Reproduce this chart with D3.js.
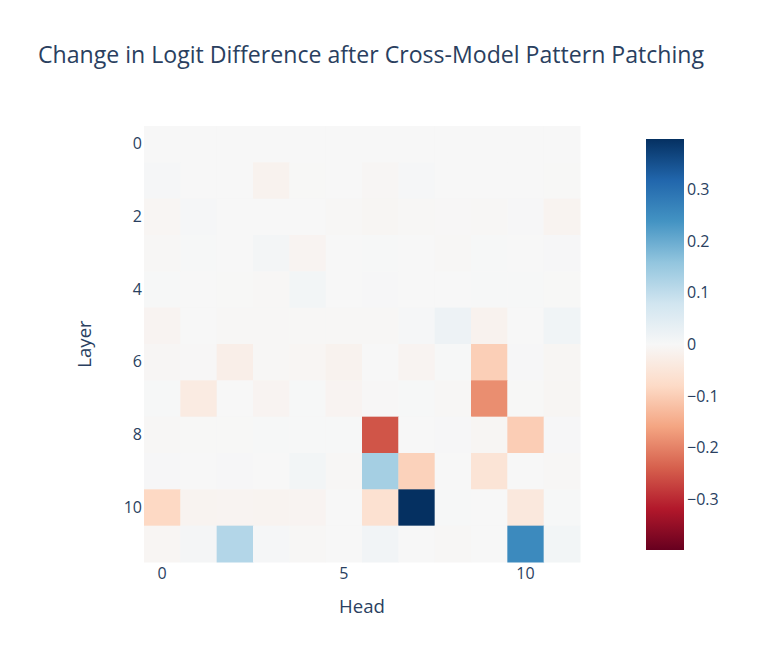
<!DOCTYPE html>
<html>
<head>
<meta charset="utf-8">
<script src="https://cdn.jsdelivr.net/npm/d3@7"></script>
<style>
  body { margin: 0; background: #fff; }
  svg text { font-family: "Open Sans", verdana, arial, sans-serif; fill: #2a3f5f; }
</style>
</head>
<body>
<div id="vis"></div>
<script>
// Change in logit difference per (layer, head)
const heads = d3.range(12);
const layers = d3.range(12);
const values = [
  [0, 0, 0, 0, 0, 0, 0, 0, 0, 0, 0, 0],
  [0.005, 0.001, 0, -0.015, -0.001, 0, -0.005, 0.005, 0.001, 0, 0, -0.001],
  [-0.007, 0.005, 0, 0, 0, -0.003, -0.006, -0.004, -0.002, -0.004, 0.003, -0.012],
  [-0.004, 0.002, 0, 0.008, -0.01, 0, 0.002, 0.001, -0.004, 0.002, 0.001, 0.003],
  [0.002, 0.001, -0.001, -0.003, 0.01, 0.001, 0.003, 0, 0, 0.002, 0.002, -0.001],
  [-0.01, 0, -0.003, -0.004, -0.003, -0.003, -0.003, 0.004, 0.02, -0.015, 0.001, 0.015],
  [-0.005, -0.002, -0.025, -0.004, -0.007, -0.015, 0, -0.01, 0.002, -0.098, 0.003, -0.006],
  [0.002, -0.035, 0, -0.01, 0.002, -0.01, -0.002, 0.002, -0.003, -0.186, -0.001, -0.006],
  [-0.004, -0.001, -0.001, 0.002, 0.002, 0.002, -0.251, 0.001, 0.003, -0.006, -0.1, 0.003],
  [0.003, 0, 0.003, 0, 0.01, -0.003, 0.135, -0.093, 0, -0.054, 0, -0.003],
  [-0.083, -0.012, -0.01, -0.012, -0.01, 0, -0.063, 0.398, 0.002, 0, -0.043, 0.002],
  [-0.007, 0.007, 0.117, 0.005, -0.003, 0, 0.012, 0, -0.003, 0.001, 0.255, 0.01]
];
const xTicks = [0, 5, 10];
const yTicks = [0, 2, 4, 6, 8, 10];
const cbTicks = [-0.3, -0.2, -0.1, 0, 0.1, 0.2, 0.3];
const rdbu = ["rgb(103,0,31)","rgb(178,24,43)","rgb(214,96,77)","rgb(244,165,130)",
  "rgb(253,219,199)","rgb(247,247,247)","rgb(209,229,240)","rgb(146,197,222)",
  "rgb(67,147,195)","rgb(33,102,172)","rgb(5,48,97)"];

const width = 757, height = 663;
const plot = { left: 144, right: 580, top: 126, bottom: 562 };
const cb = { left: 646, right: 684, top: 139, bottom: 550 };

const svg = d3.select("#vis").append("svg")
  .attr("width", width).attr("height", height);

const zmax = d3.max(values.flat(), d => Math.abs(d));
const color = d3.scaleLinear()
  .domain(d3.range(11).map(i => -zmax + i * (2 * zmax / 10)))
  .range(rdbu)
  .interpolate(d3.interpolateRgb)
  .clamp(true);

const x = d3.scaleBand().domain(heads).range([plot.left, plot.right]);
const y = d3.scaleBand().domain(layers).range([plot.top, plot.bottom]);

// Title
svg.append("text")
  .attr("x", 38).attr("y", 63)
  .attr("font-size", "23.1px")
  .text("Change in Logit Difference after Cross-Model Pattern Patching");

// Cells
const cells = [];
values.forEach((row, i) => row.forEach((v, j) => cells.push({ layer: layers[i], head: heads[j], v })));
svg.append("g").selectAll("rect")
  .data(cells)
  .enter().append("rect")
  .attr("x", d => x(d.head))
  .attr("y", d => y(d.layer))
  .attr("width", x.bandwidth() + 0.5)
  .attr("height", y.bandwidth() + 0.5)
  .attr("fill", d => color(d.v));

// Axes
const xAxis = svg.append("g")
  .attr("transform", `translate(0,${plot.bottom})`)
  .call(d3.axisBottom(x).tickValues(xTicks).tickSize(0).tickPadding(6));
xAxis.select(".domain").remove();
xAxis.selectAll("text").attr("font-size", "16px").attr("fill", "#2a3f5f");

const yAxis = svg.append("g")
  .attr("transform", `translate(${plot.left},0)`)
  .call(d3.axisLeft(y).tickValues(yTicks).tickSize(0).tickPadding(2));
yAxis.select(".domain").remove();
yAxis.selectAll("text").attr("font-size", "16px").attr("fill", "#2a3f5f");

svg.append("text")
  .attr("x", (plot.left + plot.right) / 2).attr("y", 613)
  .attr("text-anchor", "middle")
  .attr("font-size", "18.6px")
  .text("Head");

svg.append("text")
  .attr("transform", `translate(91,${(plot.top + plot.bottom) / 2}) rotate(-90)`)
  .attr("text-anchor", "middle")
  .attr("font-size", "18.6px")
  .text("Layer");

// Colorbar
const grad = svg.append("defs").append("linearGradient")
  .attr("id", "cbgrad")
  .attr("x1", 0).attr("y1", 1).attr("x2", 0).attr("y2", 0);
rdbu.forEach((c, i) => grad.append("stop")
  .attr("offset", i / (rdbu.length - 1))
  .attr("stop-color", c));

svg.append("rect")
  .attr("x", cb.left).attr("y", cb.top)
  .attr("width", cb.right - cb.left).attr("height", cb.bottom - cb.top)
  .attr("fill", "url(#cbgrad)");

const cbScale = d3.scaleLinear().domain([-zmax, zmax]).range([cb.bottom, cb.top]);
const cbAxis = svg.append("g")
  .attr("transform", `translate(${cb.right},0)`)
  .call(d3.axisRight(cbScale).tickValues(cbTicks).tickSize(0).tickPadding(3)
    .tickFormat(d => d === 0 ? "0" : d3.format(".1f")(d)));
cbAxis.select(".domain").remove();
cbAxis.selectAll("text").attr("font-size", "16px").attr("fill", "#2a3f5f");
</script>
</body>
</html>
